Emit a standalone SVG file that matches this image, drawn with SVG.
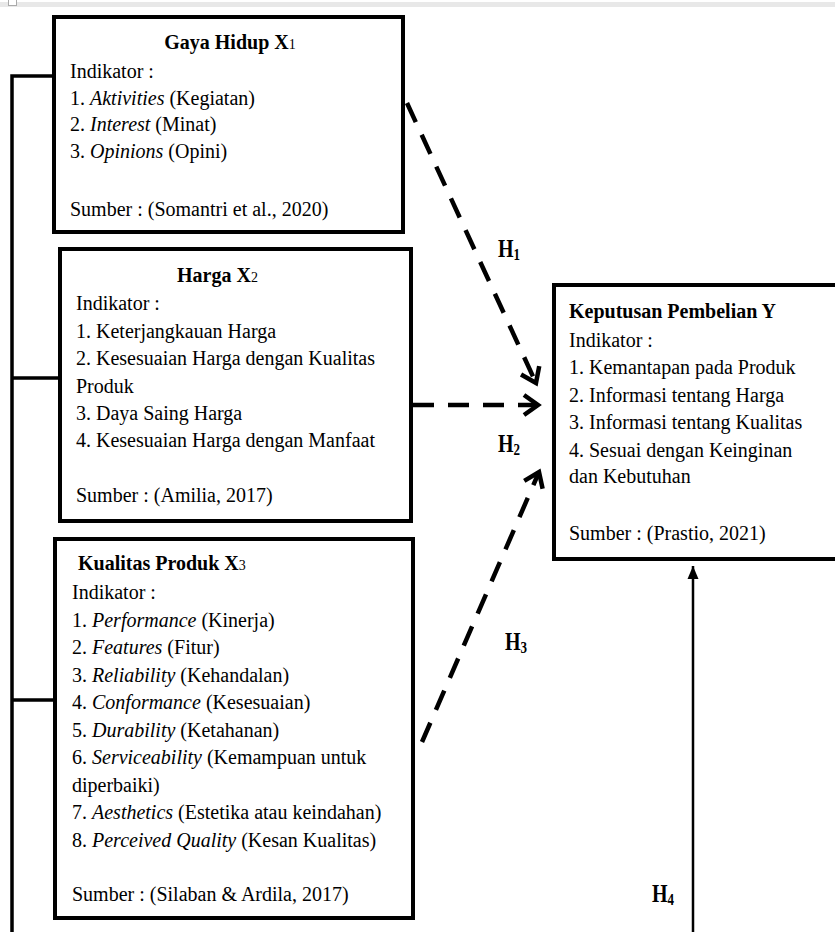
<svg xmlns="http://www.w3.org/2000/svg" width="835" height="932" viewBox="0 0 835 932">
<style>
.box{fill:#fff;stroke:#000;stroke-width:4}
.t{font-family:"Liberation Serif","Times New Roman",Times,serif;font-size:20px;fill:#000}
.b{font-weight:bold}
.i{font-style:italic}
.sub{font-size:14px;font-weight:normal}
.frame{fill:none;stroke:#000;stroke-width:3.5}
.dash{fill:none;stroke:#000;stroke-width:4.5;stroke-dasharray:21 14}
.solid{fill:none;stroke:#000;stroke-width:2.5}
.hl{font-family:"Liberation Serif","Times New Roman",Times,serif;font-size:20px;font-weight:bold;fill:#000}
</style>
<defs>
<marker id="chev" markerUnits="userSpaceOnUse" markerWidth="30" markerHeight="30" refX="0" refY="0" viewBox="-20 -15 25 30" orient="auto">
<path d="M-14,-10 L0,0 L-14,10" fill="none" stroke="#000" stroke-width="4.5" stroke-linejoin="miter"/>
</marker>
<marker id="tri" markerUnits="userSpaceOnUse" markerWidth="16" markerHeight="16" refX="0" refY="0" viewBox="-14 -7 16 14" orient="auto">
<path d="M-13,-5.5 L0,0 L-13,5.5 Z" fill="#000"/>
</marker>
</defs>
<rect x="0" y="2" width="835" height="5" fill="#e8e8e8"/>
<rect x="8.5" y="-1" width="8" height="6.5" fill="#fff" stroke="#aaa" stroke-width="1"/>

<g id="connectors">
<path class="frame" d="M12,932 L12,76 L54,76 M12,378 L60,378 M12,700 L55,700"/>
<line class="dash" x1="407" y1="103" x2="536" y2="383" marker-end="url(#chev)"/>
<line class="dash" x1="413" y1="405" x2="538" y2="405" marker-end="url(#chev)"/>
<line class="dash" x1="422" y1="742" x2="539" y2="472" marker-end="url(#chev)"/>
<line class="solid" x1="693" y1="932" x2="693" y2="566" marker-end="url(#tri)"/>
<text class="hl" transform="translate(498,257) scale(1,1.3)">H<tspan font-size="13" dy="2">1</tspan></text>
<text class="hl" transform="translate(498,452) scale(1,1.3)">H<tspan font-size="13" dy="2">2</tspan></text>
<text class="hl" transform="translate(505,650) scale(1,1.3)">H<tspan font-size="13" dy="2">3</tspan></text>
<text class="hl" transform="translate(652,902) scale(1,1.3)">H<tspan font-size="13" dy="2">4</tspan></text>
</g>

<g id="gaya-hidup">
<rect class="box" x="54" y="17" width="349" height="215"/>
<text class="t b" x="230" y="49" text-anchor="middle">Gaya Hidup X<tspan class="sub">1</tspan></text>
<text class="t" x="70" y="78">Indikator :</text>
<text class="t" x="70" y="105">1. <tspan class="i">Aktivities</tspan> (Kegiatan)</text>
<text class="t" x="70" y="131">2. <tspan class="i">Interest</tspan> (Minat)</text>
<text class="t" x="70" y="158">3. <tspan class="i">Opinions</tspan> (Opini)</text>
<text class="t" x="70" y="216">Sumber : (Somantri et al., 2020)</text>
</g>

<g id="harga">
<rect class="box" x="60" y="249" width="351" height="272"/>
<text class="t b" x="177" y="282">Harga X<tspan class="sub">2</tspan></text>
<text class="t" x="76" y="310">Indikator :</text>
<text class="t" x="76" y="338">1. Keterjangkauan Harga</text>
<text class="t" x="76" y="365">2. Kesesuaian Harga dengan Kualitas</text>
<text class="t" x="76" y="393">Produk</text>
<text class="t" x="76" y="420">3. Daya Saing Harga</text>
<text class="t" x="76" y="447">4. Kesesuaian Harga dengan Manfaat</text>
<text class="t" x="76" y="502">Sumber : (Amilia, 2017)</text>
</g>

<g id="kualitas-produk">
<rect class="box" x="55" y="539" width="358" height="379"/>
<text class="t b" x="78" y="570">Kualitas Produk X<tspan class="sub">3</tspan></text>
<text class="t" x="72" y="599">Indikator :</text>
<text class="t" x="72" y="626.5">1. <tspan class="i">Performance</tspan> (Kinerja)</text>
<text class="t" x="72" y="654">2. <tspan class="i">Features</tspan> (Fitur)</text>
<text class="t" x="72" y="681.5">3. <tspan class="i">Reliability</tspan> (Kehandalan)</text>
<text class="t" x="72" y="709">4. <tspan class="i">Conformance</tspan> (Kesesuaian)</text>
<text class="t" x="72" y="736.5">5. <tspan class="i">Durability</tspan> (Ketahanan)</text>
<text class="t" x="72" y="764">6. <tspan class="i">Serviceability</tspan> (Kemampuan untuk</text>
<text class="t" x="72" y="791.5">diperbaiki)</text>
<text class="t" x="72" y="819">7. <tspan class="i">Aesthetics</tspan> (Estetika atau keindahan)</text>
<text class="t" x="72" y="846.5">8. <tspan class="i">Perceived Quality</tspan> (Kesan Kualitas)</text>
<text class="t" x="72" y="901">Sumber : (Silaban &amp; Ardila, 2017)</text>
</g>

<g id="keputusan-pembelian">
<rect class="box" x="554" y="285" width="300" height="274"/>
<text class="t b" x="569" y="318">Keputusan Pembelian Y</text>
<text class="t" x="569" y="347">Indikator :</text>
<text class="t" x="569" y="374">1. Kemantapan pada Produk</text>
<text class="t" x="569" y="402">2. Informasi tentang Harga</text>
<text class="t" x="569" y="429">3. Informasi tentang Kualitas</text>
<text class="t" x="569" y="457">4. Sesuai dengan Keinginan</text>
<text class="t" x="569" y="483">dan Kebutuhan</text>
<text class="t" x="569" y="540">Sumber : (Prastio, 2021)</text>
</g>
</svg>
